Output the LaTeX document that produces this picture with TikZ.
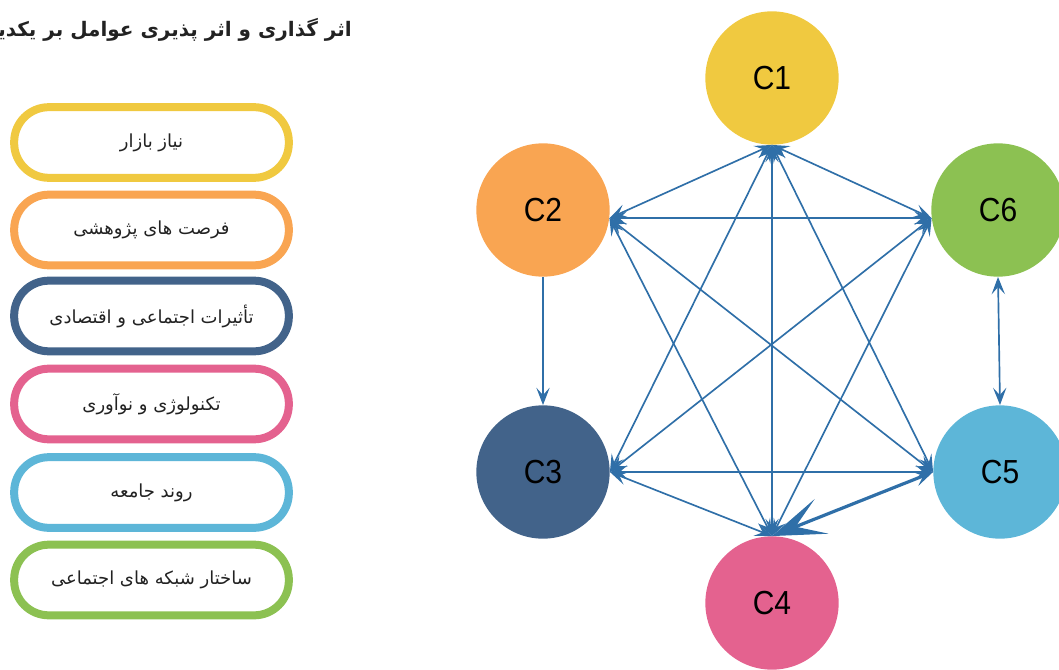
\documentclass[tikz,border=0pt]{standalone}
\usepackage{fontspec}
\setmainfont{Liberation Sans}
\newfontfamily\arabicfont[Script=Arabic]{DejaVu Sans}
\usetikzlibrary{arrows.meta}
\TeXXeTstate=1
\definecolor{cyel}{RGB}{240,201,64}
\definecolor{cora}{RGB}{249,165,82}
\definecolor{cnav}{RGB}{66,99,138}
\definecolor{cpin}{RGB}{228,98,143}
\definecolor{csky}{RGB}{93,182,216}
\definecolor{cgrn}{RGB}{140,193,82}
\definecolor{cedge}{RGB}{47,111,168}
\definecolor{ctxt}{RGB}{34,34,34}
\tikzset{
  factor/.style={circle, inner sep=0pt, minimum size=100pt, font=\fontsize{25}{25}\selectfont, text=black},
  legendbox/.style={draw, fill=white, line width=6pt, rounded corners=26pt, minimum width=206pt, minimum height=53pt, inner sep=0pt, text=ctxt, font=\arabicfont\fontsize{13.5}{15}\selectfont},
  tipsmall/.tip={Stealth[length=13pt,width=10pt,inset=5.5pt]},
  edge/.style={draw=cedge, line width=1.25pt, tipsmall-tipsmall},
  oneway/.style={draw=cedge, line width=1.25pt, -tipsmall},
  thickedge/.style={draw=cedge, line width=2.4pt, {Stealth[length=40pt,width=28pt,inset=21pt,line width=1pt]}-{Stealth[length=14pt,width=11pt,inset=6pt]}}
}
\newcommand{\lbl}[1]{\scalebox{0.9}[1]{#1}}
\begin{document}
\begin{tikzpicture}[x=0.75pt,y=-0.75pt]
\useasboundingbox (0,0) rectangle (1059,670);
% title (cut at the left edge, as in the reference)
\node[anchor=east, inner sep=0pt, text=ctxt, font=\arabicfont\bfseries\fontsize{15}{17}\selectfont] (title) at (352,30) {\beginR اثر گذاری و اثر پذیری عوامل بر یکدیگر\endR};
% legend
\node[legendbox, draw=cyel] (l1) at (151.5,142.5) {\beginR نیاز بازار\endR};
\node[legendbox, draw=cora] (l2) at (151.5,230) {\beginR فرصت های پژوهشی\endR};
\node[legendbox, draw=cnav] (l3) at (151.5,316) {\beginR تأثیرات اجتماعی و اقتصادی\endR};
\node[legendbox, draw=cpin] (l4) at (151.5,404) {\beginR تکنولوژی و نوآوری\endR};
\node[legendbox, draw=csky] (l5) at (151.5,492.5) {\beginR روند جامعه\endR};
\node[legendbox, draw=cgrn] (l6) at (151.5,580) {\beginR ساختار شبکه های اجتماعی\endR};
% factors
\node[factor, fill=cyel] (c1) at (772,78) {\lbl{C1}};
\node[factor, fill=cora] (c2) at (543,210) {\lbl{C2}};
\node[factor, fill=cnav] (c3) at (543,472) {\lbl{C3}};
\node[factor, fill=cpin] (c4) at (772,603) {\lbl{C4}};
\node[factor, fill=csky] (c5) at (1000,472) {\lbl{C5}};
\node[factor, fill=cgrn] (c6) at (998,210) {\lbl{C6}};
% connectors
\draw[edge] (c2.-7) -- (c1.south);
\draw[edge] (c1.south) -- (c6.187);
\draw[edge] (c2.-7) -- (c6.187);
\draw[edge] (c1.south) -- (c4.north);
\draw[edge] (c1.south) -- (c3.east);
\draw[edge] (c1.south) -- (c5.west);
\draw[edge] (c2.-7) -- (c4.north);
\draw[edge] (c2.-7) -- (c5.west);
\draw[edge] (c6.187) -- (c3.east);
\draw[edge] (c6.187) -- (c4.north);
\draw[edge] (c3.east) -- (c5.west);
\draw[edge] (c3.east) -- (c4.north);
\draw[oneway] (c2.south) -- (c3.north);
\draw[edge] (c6.south) -- (c5.north);
\draw[thickedge] (c4.north) -- (c5.west);
\end{tikzpicture}
\end{document}
